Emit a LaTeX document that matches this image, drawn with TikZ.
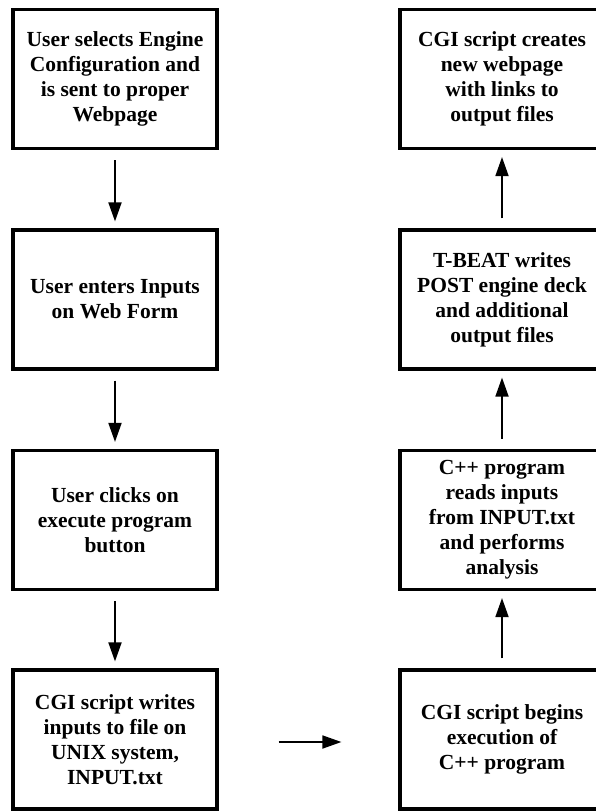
\documentclass[tikz,border=0pt]{standalone}
\usepackage{fontspec}
\setmainfont{Liberation Serif}
\usetikzlibrary{arrows.meta}
\tikzset{
	stepbox/.style={draw, line width=3.2pt, minimum width=204pt, minimum height=139pt, inner sep=0pt, align=center, font=\fontsize{21.5}{25}\selectfont\bfseries},
	flow/.style={-{Triangle[length=19pt,width=13pt]}, line width=1.8pt, shorten <=10pt, shorten >=7pt}
}
\begin{document}
\begin{tikzpicture}[x=1pt,y=-1pt]
			\useasboundingbox (0,0) rectangle (595,812);
			% left column, top to bottom
			\node[stepbox] (select) at (115,79) {User selects Engine\\Configuration and\\is sent to proper\\Webpage};
			\node[stepbox] (inputs) at (115,299.5) {User enters Inputs\\on Web Form};
			\node[stepbox] (click) at (115,520) {User clicks on\\execute program\\button};
			\node[stepbox] (write) at (115,739.5) {CGI script writes\\inputs to file on\\UNIX system,\\INPUT.txt};
			% right column, bottom to top
			\node[stepbox] (begin) at (502,739.5) {CGI script begins\\execution of\\C++ program};
			\node[stepbox] (analyse) at (502,520) {C++ program\\reads inputs\\from INPUT.txt\\and performs\\analysis};
			\node[stepbox] (deck) at (502,299.5) {T-BEAT writes\\POST engine deck\\and additional\\output files};
			\node[stepbox] (page) at (502,79) {CGI script creates\\new webpage\\with links to\\output files};
			\foreach \a/\b in {select/inputs, inputs/click, click/write} { \draw[flow] (\a.south) -- (\b.north); }
			\foreach \a/\b in {begin/analyse, analyse/deck, deck/page} { \draw[flow] (\a.north) -- (\b.south); }
			\draw[flow, shorten <=60pt, shorten >=57pt] ([yshift=-2.5pt]write.east) -- ([yshift=-2.5pt]begin.west);
		\end{tikzpicture}
\end{document}
